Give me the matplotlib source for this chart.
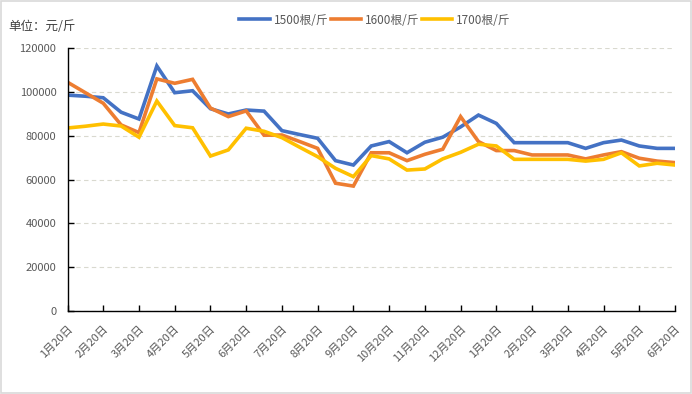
import numpy as np
import matplotlib.pyplot as plt
from matplotlib.patches import Rectangle

plt.rcParams['font.family'] = ['Noto Sans CJK SC', 'DejaVu Sans']

# two readings per month, labels on every second point
month_labels = ['1月20日', '2月20日', '3月20日', '4月20日', '5月20日', '6月20日',
                '7月20日', '8月20日', '9月20日', '10月20日', '11月20日', '12月20日',
                '1月20日', '2月20日', '3月20日', '4月20日', '5月20日', '6月20日']

price_1500 = [98500, 98000, 97300, 90700, 87600, 111800, 99600, 100500, 92300, 89900,
              91700, 91200, 82300, 80500, 78800, 68600, 66600, 75300, 77300, 72200,
              77000, 79300, 84000, 89400, 85600, 76800, 76800, 76800, 76800, 74200,
              76800, 78000, 75300, 74200, 74200]
price_1600 = [104400, 99600, 94800, 84900, 81400, 105900, 103900, 105700, 92600, 88700,
              91300, 80200, 80300, 77300, 74200, 58300, 57000, 72200, 72200, 68600,
              71500, 73800, 88700, 77300, 73200, 73200, 71200, 71200, 71200, 69400,
              71200, 72700, 69700, 68400, 67700]
price_1700 = [83500, 84300, 85300, 84400, 79300, 95800, 84600, 83600, 70700, 73500,
              83400, 82000, 79100, 74700, 70400, 65100, 61300, 70900, 69400, 64300,
              64800, 69400, 72400, 76100, 75300, 69200, 69200, 69200, 69200, 68400,
              69200, 72200, 66200, 67400, 66600]

series = [('1500根/斤', price_1500, '#4472C4'),
          ('1600根/斤', price_1600, '#ED7D31'),
          ('1700根/斤', price_1700, '#FFC000')]

fig = plt.figure(figsize=(6.92, 3.94), dpi=100)
ax = fig.add_axes([67.5/692, 1-311/394, (675-67.5)/692, (311-48)/394])

x = np.arange(len(price_1500))
for name, vals, col in series:
    ax.plot(x, vals, color=col, lw=2.6, label=name, solid_joinstyle='miter')

ax.set_xlim(0, len(x)-1)
ax.set_ylim(0, 120000)
ax.set_yticks(np.arange(0, 120001, 20000))
ax.set_xticks(x[::2])
ax.set_xticklabels(month_labels, rotation=45, ha='right', va='top',
                   rotation_mode='anchor')
ax.grid(axis='y', ls=(0, (4, 3)), color='#D9D9CF', lw=0.8)
ax.set_axisbelow(True)
for s in ['top', 'right']:
    ax.spines[s].set_visible(False)
for s in ['left', 'bottom']:
    ax.spines[s].set_color('black')
    ax.spines[s].set_linewidth(1.0)
ax.tick_params(axis='both', direction='in', length=4, width=1, color='black',
               labelsize=8, labelcolor='#595959')
ax.tick_params(axis='y', pad=8)
ax.tick_params(axis='x', pad=9)

fig.legend(loc='center', bbox_to_anchor=(375/692, 1-20/394), ncol=3, frameon=False,
           fontsize=8.5, handlelength=2.6, handletextpad=0.3, columnspacing=0.2,
           labelcolor='#595959')

fig.text(8/692, 1-27/394, '单位：元/斤', fontsize=9, color='#404040', va='center')

fig.patches.append(Rectangle((0.001, 0.002), 0.997, 0.995, transform=fig.transFigure,
                             fill=False, edgecolor='#D9D9D9', lw=1.2))

fig.savefig('out.png', dpi=100)
